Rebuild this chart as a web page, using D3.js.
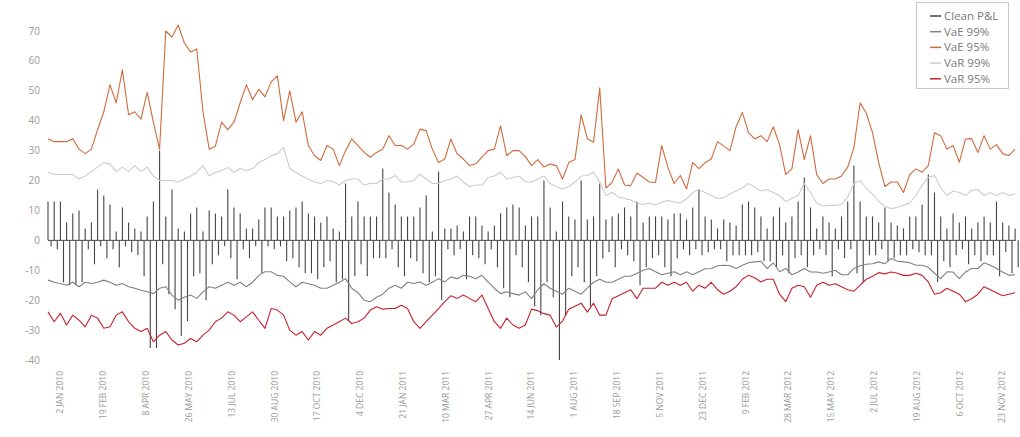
<!DOCTYPE html>
<html>
<head>
<meta charset="utf-8">
<script src="https://cdn.jsdelivr.net/npm/d3@7/dist/d3.min.js"></script>
<style>
  html, body { margin: 0; padding: 0; background: #fff; }
  svg { display: block; font-family: "Open Sans", sans-serif; }
</style>
</head>
<body>
<svg id="chart" width="1020" height="437"></svg>
<script>
// sampling grid of the series (one reading about every week)
const firstDate = "2009-12-19";
const lastDate = "2012-12-08";
const stepDays = 6.95;

const tickDates = [
  "2010-01-02", "2010-02-19", "2010-04-08", "2010-05-26", "2010-07-13", "2010-08-30",
  "2010-10-17", "2010-12-04", "2011-01-21", "2011-03-10", "2011-04-27", "2011-06-14",
  "2011-08-01", "2011-09-18", "2011-11-05", "2011-12-23", "2012-02-09", "2012-03-28",
  "2012-05-15", "2012-07-02", "2012-08-19", "2012-10-06", "2012-11-23"
];
const yTicks = [70, 60, 50, 40, 30, 20, 10, 0, -10, -20, -30, -40];

const seriesNames = ["Clean P&L", "VaE 99%", "VaE 95%", "VaR 99%", "VaR 95%"];
const seriesColors = ["#444444", "#808080", "#cf6b3d", "#cccccc", "#c8202e"];

// clean P&L, two readings per week (gain spike, loss spike)
const cleanPnl = [
  13,-2, 13,-3, 13,-14, 6,-15, 9,-15, 10,-14, 4,-3, 6,-8, 17,-2, 15,-6,
  12,-3, 3,-9, 11,-2, 6,-4, 4,-5, 3,-12, 8,-36, 13,-36, 30,-8, 8,-18,
  17,-23, 4,-32, 3,-27, 9,-12, 11,-11, 3,-20, 10,-8, 9,-5, 8,-2, 17,-6,
  11,-13, 9,-3, 4,-6, 4,-2, 7,-11, 11,-2, 11,-3, 8,-2, 8,-7, 10,-6,
  11,-9, 13,-11, 9,-11, 8,-13, 6,-9, 8,-7, 4,-14, 3,-13, 19,-27, 8,-12,
  13,-8, 8,-12, 8,-6, 8,-6, 24,-6, 16,-3, 12,-9, 8,-12, 8,-6, 8,-7,
  11,-11, 15,-14, 3,-12, 23,-20, 4,-3, 4,-5, 5,-3, 3,-13, 8,-5, 8,-6,
  5,-8, 3,-3, 5,-9, 9,-16, 11,-19, 12,-5, 11,-9, 5,-14, 8,-22, 8,-25,
  20,-14, 11,-19, 3,-40, 13,-25, 8,-12, 7,-9, 20,-14, 7,-22, 8,-12, 19,-6,
  7,-4, 8,-9, 9,-3, 11,-5, 8,-7, 13,-15, 6,-9, 8,-6, 8,-5, 8,-9,
  7,-12, 9,-6, 9,-3, 7,-5, 11,-3, 17,-5, 8,-4, 7,-3, 4,-3, 7,-7,
  6,-5, 5,-5, 12,-5, 13,-5, 11,-4, 8,-7, 4,-7, 8,-9, 11,-5, 6,-11,
  8,-6, 13,-5, 21,-9, 11,-5, 4,-3, 8,-5, 6,-12, 4,-3, 8,-6, 13,-3,
  25,-11, 13,-14, 8,-5, 8,-5, 6,-3, 11,-7, 6,-6, 5,-5, 4,-5, 8,-3,
  8,-4, 12,-5, 22,-5, 16,-14, 8,-7, 4,-9, 9,-5, 6,-3, 8,-8, 4,-5,
  6,-7, 8,-5, 6,-5, 13,-12, 6,-4, 5,-11, 4,-9
];

const vae99 = [
  -13.3, -14, -14.4, -15, -14, -15.5, -14, -14.4, -14, -13.3,
  -14, -15, -14.4, -15.5, -16, -16.7, -17.2, -17.8, -16, -15.5,
  -18.3, -20, -19, -18.3, -19.4, -17.2, -15.5, -16, -15, -14,
  -15, -14, -15.5, -14, -11.7, -10.5, -10.5, -11.7, -12, -13.9,
  -15.5, -14, -14.5, -15, -16, -16, -15, -14, -12.8, -16,
  -17.5, -20, -20.5, -19, -18, -16, -15, -16, -14, -14.4,
  -13.9, -15, -14, -12.8, -13.9, -12.2, -12.8, -11.7, -12, -12.8,
  -11.7, -13.9, -16, -17.8, -17.2, -17.8, -18.3, -17.2,
  -19.5, -16.5, -14.5, -16, -17, -18, -16, -17, -18, -16,
  -14, -13, -14, -14, -13, -12, -12, -11, -10, -9.4,
  -10.5, -11.5, -11, -10.5, -11.5, -10.5, -11.5, -10.5, -9.5, -9.4,
  -8.5, -8.3, -8.5, -9.4, -8.3, -7.5, -7.2, -7,
  -9.4, -7.5, -10.5, -9.4, -11.5, -10.6, -9.4, -10.6, -10.6, -11,
  -10.6, -10, -11.5, -11.5, -9.4, -8.5, -8, -7.8, -7.2, -7.8,
  -6.1, -7, -7.2, -7.5, -8.3, -8.3, -9, -11, -12.8, -10.5,
  -10.6, -12.8, -10.6, -9.4, -9.4, -7.5, -8.3, -9.4, -10.6, -11.7, -11.5
];

const vae95 = [
  34, 33, 33, 33, 34, 30.5, 29, 30.5, 37, 43,
  52, 46, 57, 42, 43, 40.5, 49.5, 39.5, 30.5, 70,
  68, 72, 66, 63, 64, 43, 30.5, 31.5, 39.5, 37,
  39.5, 46, 52, 47, 50.5, 48, 53, 55, 40, 50,
  39.5, 43, 31.7, 28.3, 26.7, 31.7, 30.5, 25, 30, 33.9,
  31.7, 29.4, 27.8, 29.4, 30.5, 35, 31.7, 31.7, 30.5, 32.2,
  37.2, 36.7, 30.5, 26, 27.2, 33.9, 28.9, 27.2, 25, 25.6,
  27.8, 30, 30.5, 38.3, 28.3, 30, 30, 28,
  25, 27, 24.5, 25.5, 25, 20.5, 26, 27, 42, 34,
  32.8, 51, 17.5, 19.4, 23.9, 18.5, 18.3, 22.5, 21, 19.5,
  19.4, 31.7, 24.4, 19, 21.7, 17.2, 26, 24, 26, 27.2,
  33, 31.5, 30, 38, 42.8, 36, 33.9, 35,
  33, 38, 32, 22, 24, 37, 27, 35, 22, 19,
  20.5, 20.5, 21.5, 24.5, 31, 46, 42.5, 36, 26, 18,
  19.5, 19.5, 16, 22, 23.9, 22.8, 25, 36, 35, 30.5,
  31.7, 26.1, 33.9, 34, 29.4, 35, 30.5, 32, 29, 28.3, 30.5
];

const var99 = [
  22.8, 22, 22, 22, 22, 20.5, 21.5, 23, 24.5, 26,
  25.5, 23, 24.5, 23, 25, 23, 24.5, 21.5, 20, 20,
  20, 19.5, 20.5, 21.5, 22.8, 25, 21.5, 22.8, 23.3, 24.4,
  22.8, 24, 23.3, 24, 26, 27, 28.3, 29, 31, 24,
  22.8, 21.5, 20.5, 19.5, 19, 20, 19.7, 18.5, 20, 20.5,
  20.5, 18.5, 19, 19, 20.5, 20.5, 21.7, 19.5, 19.5, 20,
  22.2, 20.5, 19, 19, 20, 20.5, 21.5, 19.5, 18, 18.5,
  18.5, 21, 21.5, 22.8, 20.5, 21, 21.5, 19.5,
  19.5, 20.5, 21.5, 19, 18, 17.2, 18, 19.5, 21.5, 21.7,
  22.8, 19.5, 15, 16, 14.5, 14, 13.5, 12.5, 12, 12.5,
  11.8, 12.8, 13.3, 12.8, 12.5, 13.9, 16, 17, 16, 15,
  14, 14.2, 15.5, 16.5, 17.5, 19, 17.8, 16.5,
  17, 16, 15, 13, 14, 15, 19, 16, 12.5, 11.5,
  11.7, 11.7, 12, 14.5, 19, 20, 17.5, 15.5, 13, 11.5,
  10.6, 11, 11.7, 12.5, 15, 18.5, 21, 21.7, 17.5, 15,
  16.5, 16, 15, 16.7, 17, 15, 16, 15, 16, 15, 15.5
];

const var95 = [
  -23.9, -27.2, -24.4, -28.3, -25, -26.7, -28.9, -25, -26, -29.4,
  -28.9, -25, -23.9, -27.2, -29.4, -30.5, -29.4, -33.9, -31.7, -30.5,
  -33.3, -35, -34.4, -32.8, -33.9, -31.7, -30, -27.2, -26, -23.9,
  -25, -27.2, -25.6, -23.9, -26.7, -29.4, -22.8, -23.3, -25, -30,
  -31.7, -30.5, -33.3, -30.5, -31.7, -29.4, -28.3, -27.2, -26, -27.8,
  -27.2, -26, -23.3, -22.2, -23, -22.8, -22.8, -21.7, -22.8, -27.2,
  -29.4, -27.2, -25, -22.8, -20.5, -18.5, -19.4, -18.3, -19.4, -20.5,
  -18.3, -22.8, -27.2, -29.4, -26, -28.3, -29.4, -28.3,
  -23, -23.5, -24.5, -25, -29, -27, -23, -22, -21, -24,
  -21, -25, -25, -19.5, -18.5, -17.5, -16.5, -19.5, -16, -16,
  -16, -14, -15, -14, -15, -14, -17, -15, -16, -14,
  -16.5, -18, -17, -15.5, -13, -11.7, -12.5, -13.9,
  -13, -13, -18, -20.5, -16, -15, -15.5, -19, -15, -14,
  -15, -14.5, -15.5, -16.5, -17, -15, -13, -12, -10.8, -11.2,
  -10.6, -11, -11.7, -11.7, -11, -11.7, -13.9, -18, -17.5, -16,
  -17, -18, -20.5, -19.5, -18, -15.5, -16.5, -17.5, -18.5, -18, -17.5
];

const parseDate = d3.timeParse("%Y-%m-%d");
const start = parseDate(firstDate);
const dateAt = k => new Date(start.getTime() + k * stepDays * 864e5);

const svg = d3.select("#chart");

const x = d3.scaleTime()
  .domain([start, parseDate(lastDate)])
  .range([48, 1015.8]);

const y = d3.scaleLinear()
  .domain([-40, 70])
  .range([360, 31]);

// y tick labels
svg.append("g")
  .selectAll("text")
  .data(yTicks)
  .join("text")
  .attr("x", 40)
  .attr("y", d => y(d))
  .attr("dy", "0.35em")
  .attr("text-anchor", "end")
  .attr("font-size", 10)
  .attr("fill", "#999")
  .text(d => String(d));

// x tick labels, rotated
const fmt = d3.timeFormat("%-d %b %Y");
svg.append("g")
  .selectAll("text")
  .data(tickDates.map(parseDate))
  .join("text")
  .attr("transform", d => `translate(${x(d)},371) rotate(-90)`)
  .attr("dy", "0.35em")
  .attr("text-anchor", "end")
  .attr("font-size", 8.5)
  .attr("fill", "#999")
  .text(d => fmt(d).toUpperCase());

// clean P&L spikes
svg.append("g")
  .selectAll("line")
  .data(cleanPnl)
  .join("line")
  .attr("x1", (d, k) => x(dateAt(k / 2)))
  .attr("x2", (d, k) => x(dateAt(k / 2)))
  .attr("y1", y(0))
  .attr("y2", d => y(d))
  .attr("stroke", seriesColors[0])
  .attr("stroke-width", 1.1);

// zero line
svg.append("line")
  .attr("x1", x(start))
  .attr("x2", x(parseDate(lastDate)))
  .attr("y1", y(0))
  .attr("y2", y(0))
  .attr("stroke", "#4a4a4a")
  .attr("stroke-width", 1);

const line = d3.line()
  .x((d, i) => x(dateAt(i)))
  .y(d => y(d));

const lines = [
  { values: var99, color: seriesColors[3] },
  { values: vae99, color: seriesColors[1] },
  { values: vae95, color: seriesColors[2] },
  { values: var95, color: seriesColors[4] }
];

svg.append("g")
  .selectAll("path")
  .data(lines)
  .join("path")
  .attr("d", d => line(d.values))
  .attr("fill", "none")
  .attr("stroke", d => d.color)
  .attr("stroke-width", 1.1)
  .attr("stroke-linejoin", "round");

// legend
const legend = svg.append("g");
legend.append("rect")
  .attr("x", 916.5)
  .attr("y", 2.5)
  .attr("width", 92)
  .attr("height", 86)
  .attr("fill", "#fff")
  .attr("stroke", "#c8c8c8");

const items = legend.selectAll("g.item")
  .data(seriesNames)
  .join("g")
  .attr("class", "item")
  .attr("transform", (d, i) => `translate(930,${16 + i * 15.7})`);

items.append("line")
  .attr("x1", 0)
  .attr("x2", 11)
  .attr("stroke", (d, i) => seriesColors[i])
  .attr("stroke-width", 1.5);

items.append("text")
  .attr("x", 14)
  .attr("dy", "0.35em")
  .attr("font-size", 11.5)
  .attr("fill", "#7a7a7a")
  .text(d => d);
</script>
</body>
</html>
